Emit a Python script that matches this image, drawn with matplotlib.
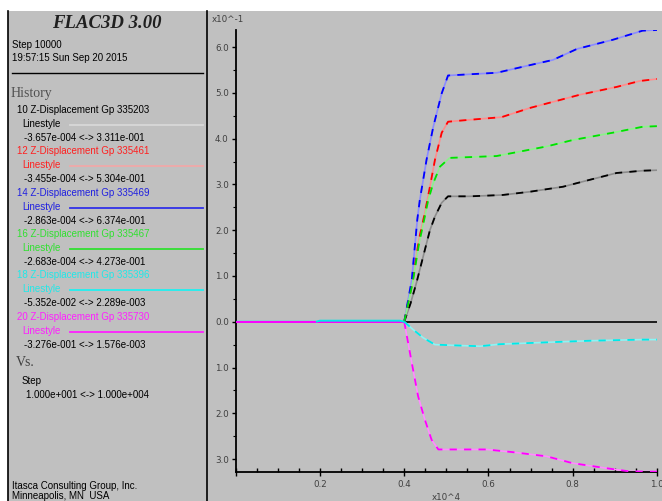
import matplotlib
matplotlib.use("Agg")
import matplotlib.pyplot as plt
from matplotlib.patches import Rectangle
from matplotlib.lines import Line2D
from matplotlib.ticker import MultipleLocator, FuncFormatter

# history curves, x in units of 1e4 steps, y in units of 1e-1
step_black = [0.001, 0.4, 0.415, 0.429, 0.449, 0.461, 0.473, 0.489, 0.504, 0.556, 0.634, 0.698, 0.777, 0.84, 0.904, 0.966, 1.0]
disp_black = [0.0, 0.0, 0.4, 0.85, 1.57, 2.0, 2.30, 2.60, 2.74, 2.74, 2.77, 2.84, 2.95, 3.10, 3.25, 3.30, 3.311]

step_red = [0.001, 0.4, 0.42, 0.435, 0.449, 0.461, 0.473, 0.489, 0.504, 0.54, 0.631, 0.698, 0.817, 0.904, 0.959, 1.0]
disp_red = [0.0, 0.0, 0.9, 1.8, 2.38, 2.95, 3.54, 4.13, 4.37, 4.40, 4.47, 4.67, 4.96, 5.13, 5.26, 5.304]

step_blue = [0.001, 0.4, 0.418, 0.431, 0.437, 0.453, 0.469, 0.489, 0.504, 0.62, 0.70, 0.753, 0.81, 0.895, 0.966, 1.0]
disp_blue = [0.0, 0.0, 0.92, 2.23, 2.66, 3.54, 4.26, 4.99, 5.38, 5.44, 5.61, 5.72, 5.96, 6.16, 6.36, 6.374]

step_green = [0.001, 0.4, 0.42, 0.435, 0.449, 0.457, 0.469, 0.485, 0.508, 0.619, 0.738, 0.80, 0.895, 0.966, 1.0]
disp_green = [0.0, 0.0, 0.85, 1.7, 2.30, 2.66, 3.03, 3.39, 3.58, 3.62, 3.83, 3.97, 4.13, 4.26, 4.273]

step_cyan = [0.001, 0.19, 0.2, 0.39, 0.4, 0.421, 0.445, 0.473, 0.532, 0.58, 0.627, 0.738, 0.84, 0.966, 1.0]
disp_cyan = [0.0, 0.0, 0.023, 0.023, 0.0, -0.17, -0.35, -0.50, -0.52, -0.535, -0.49, -0.45, -0.415, -0.39, -0.39]

step_mag = [0.001, 0.19, 0.4, 0.418, 0.433, 0.449, 0.465, 0.481, 0.595, 0.659, 0.738, 0.80, 0.88, 0.935, 1.0]
disp_mag = [0.0, 0.0, 0.0, -0.90, -1.63, -2.14, -2.58, -2.79, -2.79, -2.85, -2.94, -3.09, -3.20, -3.27, -3.276]

legend_titles = ["10 Z-Displacement Gp 335203", "12 Z-Displacement Gp 335461",
                 "14 Z-Displacement Gp 335469", "16 Z-Displacement Gp 335467",
                 "18 Z-Displacement Gp 335396", "20 Z-Displacement Gp 335730"]
legend_ranges = ["-3.657e-004 <-> 3.311e-001", "-3.455e-004 <-> 5.304e-001",
                 "-2.863e-004 <-> 6.374e-001", "-2.683e-004 <-> 4.273e-001",
                 "-5.352e-002 <-> 2.289e-003", "-3.276e-001 <-> 1.576e-003"]

W, H = 662, 501
BG = "#c0c0c0"


def px(x, y):
    return x / W, 1 - y / H


def light(c, f=0.55):
    r, g, b = matplotlib.colors.to_rgb(c)
    return (r + (1 - r) * f, g + (1 - g) * f, b + (1 - b) * f)


fig = plt.figure(figsize=(W / 100, H / 100), dpi=100, facecolor="white")
fig.patches.append(Rectangle(px(8, H), (W - 8) / W, (H - 11) / H, transform=fig.transFigure,
                             facecolor=BG, edgecolor="none", zorder=-10))
for xv in (8, 207):
    fig.add_artist(Line2D([xv / W, xv / W], [0, 1 - 11 / H], color="black", lw=1.2))
fig.add_artist(Line2D([12 / W, 203 / W], [1 - 73 / H, 1 - 73 / H], color="black", lw=1.0))

fig.text(*px(107, 24), "FLAC3D 3.00", family="Liberation Serif", weight="bold", style="italic",
         fontsize=13.5, ha="center", va="center", color="#202020")
fig.text(*px(12, 45), "Step 10000", fontsize=7, family="Liberation Sans", va="center")
fig.text(*px(12, 58), "19:57:15 Sun Sep 20 2015", fontsize=7, family="Liberation Sans", va="center")
fig.text(*px(11, 93), "History", family="Liberation Serif", fontsize=10, color="#505050", va="center")

text_cols = ["black", "#ff2020", "#2020e0", "#30e030", "#20e8e8", "#ff20ff"]
line_cols = ["#d8d8d8", "#f0a8a8", "#3030e8", "#30e030", "#20f0f0", "#ff20ff"]
y0 = 110
for i in range(6):
    yy = y0 + i * 41.3
    fig.text(*px(17, yy), legend_titles[i], fontsize=7, family="Liberation Sans",
             color=text_cols[i], va="center")
    fig.text(*px(22, yy + 14), "Linestyle", fontsize=7, family="Liberation Sans",
             color=text_cols[i], va="center")
    fig.add_artist(Line2D([70 / W, 203 / W], [1 - (yy + 15) / H] * 2, color=line_cols[i], lw=1.3))
    fig.text(*px(24, yy + 28), legend_ranges[i], fontsize=7, family="Liberation Sans",
             color="black", va="center")

fig.text(*px(16, 363), "Vs.", family="Liberation Serif", fontsize=10, color="#404040", va="center")
fig.text(*px(22, 381), "Step", fontsize=7, family="Liberation Sans", va="center")
fig.text(*px(26, 395), "1.000e+001 <-> 1.000e+004", fontsize=7, family="Liberation Sans", va="center")
fig.text(*px(12, 486), "Itasca Consulting Group, Inc.", fontsize=7, family="Liberation Sans", va="center")
fig.text(*px(12, 496), "Minneapolis, MN  USA", fontsize=7, family="Liberation Sans", va="center")

ax = fig.add_axes([235.7 / W, 1 - 471.7 / H, (657 - 235.7) / W, (471.7 - 30) / H])
ax.set_facecolor("none")
ax.axhline(0, color="black", lw=1.2, zorder=1)

series = [(step_black, disp_black, "black"), (step_red, disp_red, "#ff0000"),
          (step_blue, disp_blue, "#0000ff"), (step_green, disp_green, "#00e000"),
          (step_mag, disp_mag, "#ff00ff"), (step_cyan, disp_cyan, "#00e8e8")]
for xs, ys, c in series:
    # quiet stage before step 4000 drawn solid, loaded stage dashed
    k = xs.index(0.4) + 1
    ax.plot(xs[:k], ys[:k], color=c, lw=1.4, zorder=3, solid_capstyle="butt")
    ax.plot(xs[k - 1:], ys[k - 1:], color=light(c), lw=1.2, zorder=2)
    ax.plot(xs[k - 1:], ys[k - 1:], color=c, lw=1.3, dashes=(4, 4), zorder=3)

# magenta lies on top over the first part of the record
k = step_mag.index(0.19) + 1
ax.plot(step_mag[:k], disp_mag[:k], color="#ff00ff", lw=1.4, zorder=4, solid_capstyle="butt")

ax.set_xlim(0, 1.0)
ax.set_ylim(-3.276, 6.374)
for s in ("top", "right"):
    ax.spines[s].set_visible(False)
for s in ("left", "bottom"):
    ax.spines[s].set_linewidth(1.3)
ax.xaxis.set_major_locator(MultipleLocator(0.2))
ax.xaxis.set_minor_locator(MultipleLocator(0.05))
ax.yaxis.set_major_locator(MultipleLocator(1.0))
ax.yaxis.set_minor_locator(MultipleLocator(0.5))
ax.xaxis.set_major_formatter(FuncFormatter(lambda v, p: "" if v < 0.1 else f"{v:.1f}"))
ax.yaxis.set_major_formatter(FuncFormatter(lambda v, p: f"{abs(v):.1f}"))
ax.tick_params(axis="x", which="major", direction="inout", length=6, width=1, pad=3,
               labelsize=6.3, labelcolor="#404040")
ax.tick_params(axis="x", which="minor", direction="in", length=3, width=1)
ax.tick_params(axis="y", which="major", direction="out", length=3, width=1, pad=2,
               labelsize=6.3, labelcolor="#404040")
ax.tick_params(axis="y", which="minor", direction="out", length=2, width=0.8)

fig.text(*px(212, 19), "x10^-1", fontsize=6.3, color="#404040", va="center")
fig.text(*px(432, 497), "x10^4", fontsize=6.3, color="#404040", va="center")

fig.savefig("out.png", dpi=100, facecolor="white")
